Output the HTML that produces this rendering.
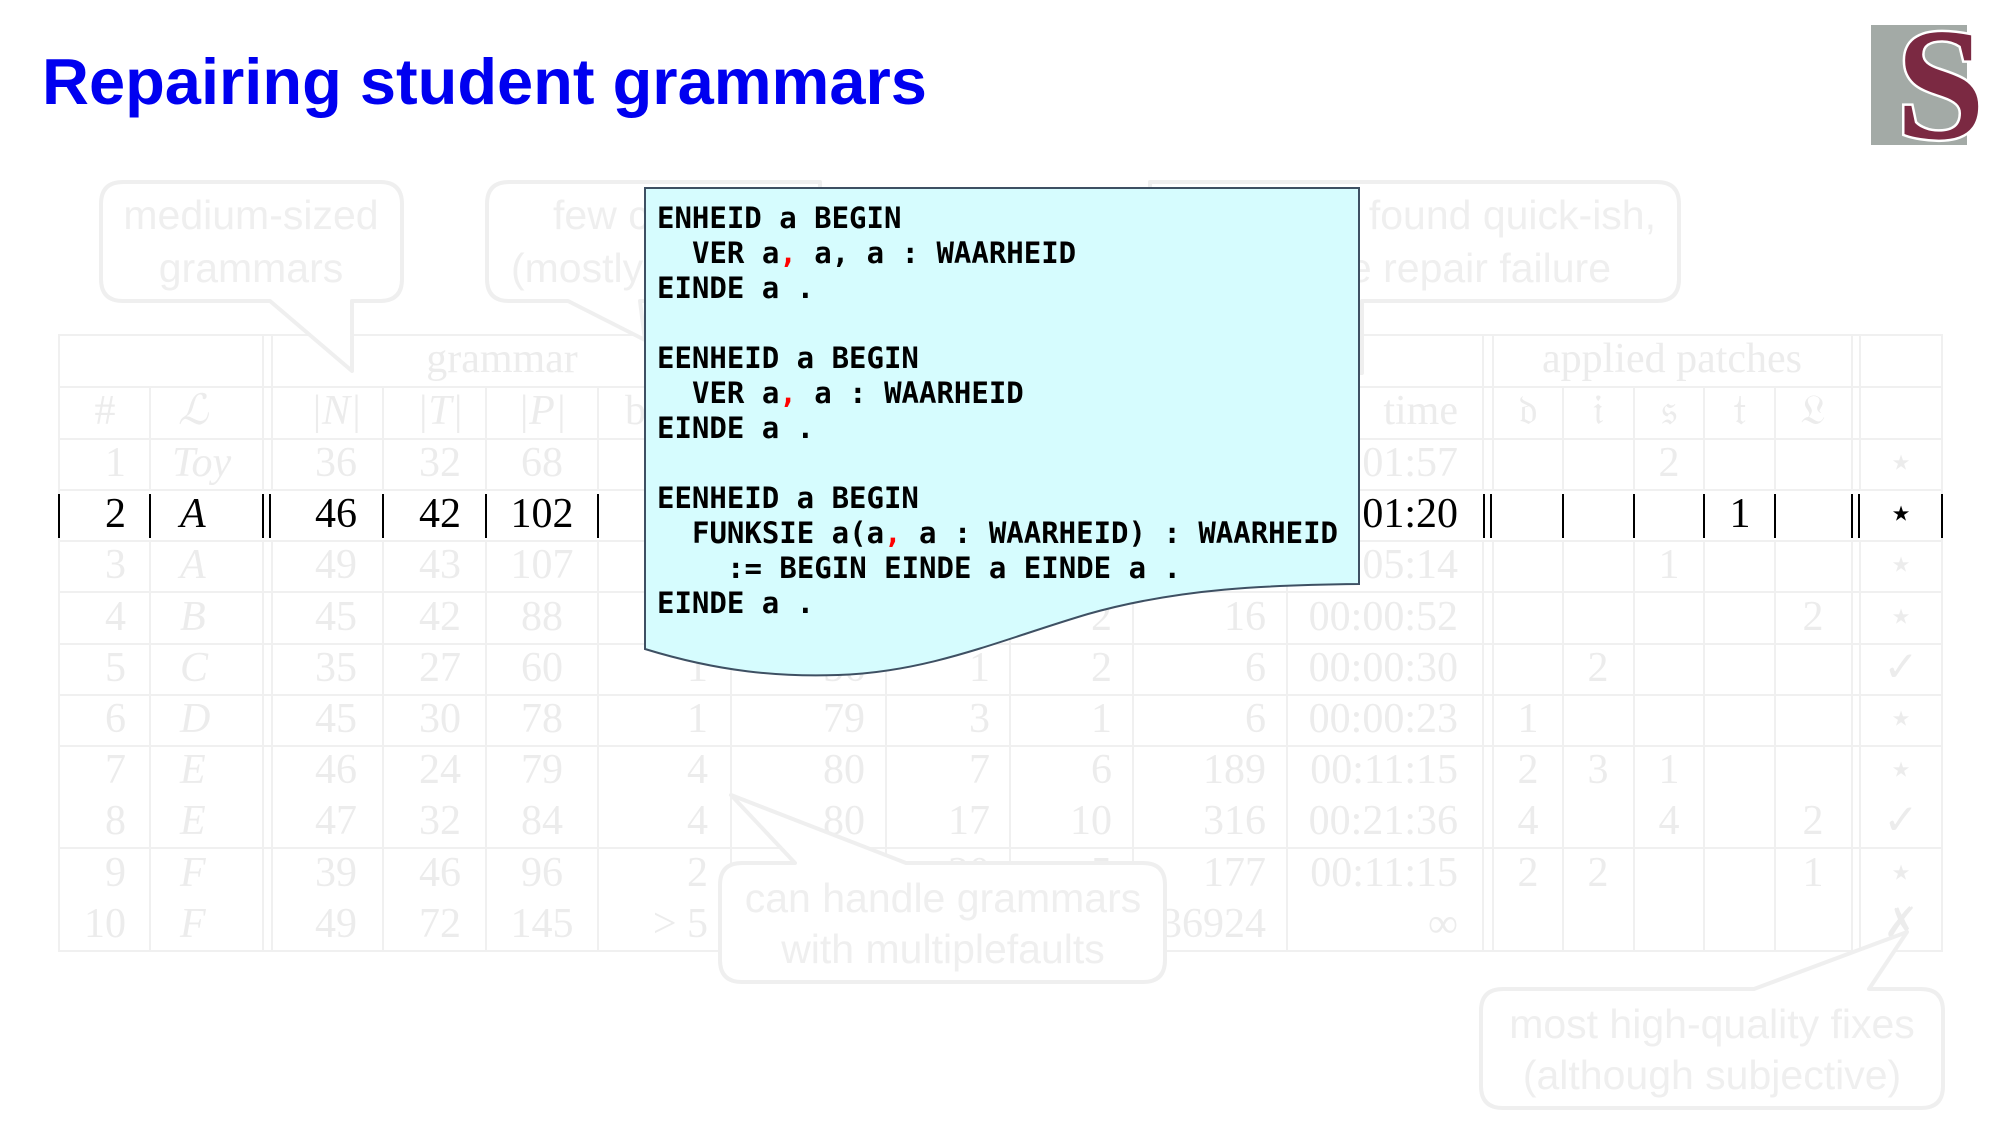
<!DOCTYPE html>
<html><head><meta charset="utf-8"><style>
html,body{margin:0;padding:0;background:#fff;}
svg{display:block;}
.f{fill:#ececec;font-family:"Liberation Serif",serif;font-size:42px;}
.b{fill:#000;font-family:"Liberation Serif",serif;font-size:42px;}
.i{font-style:italic;}
.e{text-anchor:end;}
.m{text-anchor:middle;}
.c{fill:#efefef;font-family:"Liberation Sans",sans-serif;font-size:41px;}
.code{font-family:"DejaVu Sans Mono","Liberation Mono",monospace;font-weight:bold;font-size:29px;fill:#000;}
</style></head><body>
<svg width="2001" height="1125" viewBox="0 0 2001 1125" xmlns="http://www.w3.org/2000/svg">
<rect width="2001" height="1125" fill="#fff"/>
<text x="42" y="104" font-family="Liberation Sans, sans-serif" font-weight="bold" font-size="65" fill="#0000f0">Repairing student grammars</text>
<!-- logo -->
<rect x="1871" y="25" width="96" height="120" fill="#a3aaa6"/>
<text x="1896" y="138" font-family="Liberation Serif, serif" font-weight="bold" font-size="160" fill="#7b2942" stroke="#fff" stroke-width="5" paint-order="stroke">S</text>

<!-- table lines -->
<g stroke="#f0f0f0" stroke-width="2" fill="none">
<rect x="59" y="335" width="1883" height="616"/>
<line x1="59" y1="387" x2="1942" y2="387"/>
<line x1="59" y1="439" x2="1942" y2="439"/>
<line x1="59" y1="490" x2="1942" y2="490"/>
<line x1="59" y1="541" x2="1942" y2="541"/>
<line x1="59" y1="592" x2="1942" y2="592"/>
<line x1="59" y1="644" x2="1942" y2="644"/>
<line x1="59" y1="695" x2="1942" y2="695"/>
<line x1="59" y1="746" x2="1942" y2="746"/>
<line x1="59" y1="848" x2="1942" y2="848"/>
<line x1="263" y1="335" x2="263" y2="951"/><line x1="272" y1="335" x2="272" y2="951"/>
<line x1="1483" y1="335" x2="1483" y2="951"/><line x1="1493" y1="335" x2="1493" y2="951"/>
<line x1="1852" y1="335" x2="1852" y2="951"/><line x1="1860" y1="335" x2="1860" y2="951"/>
<line x1="150" y1="387" x2="150" y2="951"/>
<line x1="383" y1="387" x2="383" y2="951"/>
<line x1="486" y1="387" x2="486" y2="951"/>
<line x1="598" y1="387" x2="598" y2="951"/>
<line x1="731" y1="387" x2="731" y2="951"/>
<line x1="886" y1="387" x2="886" y2="951"/>
<line x1="1010" y1="387" x2="1010" y2="951"/>
<line x1="1133" y1="387" x2="1133" y2="951"/>
<line x1="1287" y1="335" x2="1287" y2="951"/>
<line x1="1563" y1="387" x2="1563" y2="951"/>
<line x1="1634" y1="387" x2="1634" y2="951"/>
<line x1="1704" y1="387" x2="1704" y2="951"/>
<line x1="1775" y1="387" x2="1775" y2="951"/>
</g>
<rect x="60" y="491" width="1881" height="49" fill="#fff"/>

<!-- headers -->
<text class="f m" x="502" y="372">grammar</text>
<text class="f m" x="1672" y="372">applied patches</text>
<text class="f m" x="105" y="424">#</text>
<text class="f i" x="178" y="424">ℒ</text>
<text class="f m i" x="336" y="424">|N|</text>
<text class="f m i" x="440" y="424">|T|</text>
<text class="f m i" x="542" y="424">|P|</text>
<text class="f" x="625" y="424">b</text>
<text class="f e" x="1458" y="424">time</text>
<text class="f m" x="1528" y="424">𝔡</text>
<text class="f m" x="1598" y="424">𝔦</text>
<text class="f m" x="1669" y="424">𝔰</text>
<text class="f m" x="1740" y="424">𝔱</text>
<text class="f m" x="1813" y="424">𝔏</text>

<!-- faded rows -->
<g class="f">
<text class="e" x="126" y="476">1</text><text class="i" x="172" y="476">Toy</text><text class="m" x="336" y="476">36</text><text class="m" x="440" y="476">32</text><text class="m" x="542" y="476">68</text><text class="e" x="1458" y="476">00:01:57</text><text class="m" x="1669" y="476">2</text><text class="m" x="1901" y="476">⋆</text>

<text class="e" x="126" y="578">3</text><text class="i" x="180" y="578">A</text><text class="m" x="336" y="578">49</text><text class="m" x="440" y="578">43</text><text class="m" x="542" y="578">107</text><text class="e" x="1458" y="578">00:05:14</text><text class="m" x="1669" y="578">1</text><text class="m" x="1901" y="578">⋆</text>

<text class="e" x="126" y="630">4</text><text class="i" x="180" y="630">B</text><text class="m" x="336" y="630">45</text><text class="m" x="440" y="630">42</text><text class="m" x="542" y="630">88</text><text class="e" x="1112" y="630">2</text><text class="e" x="1266" y="630">16</text><text class="e" x="1458" y="630">00:00:52</text><text class="m" x="1813" y="630">2</text><text class="m" x="1901" y="630">⋆</text>

<text class="e" x="126" y="681">5</text><text class="i" x="180" y="681">C</text><text class="m" x="336" y="681">35</text><text class="m" x="440" y="681">27</text><text class="m" x="542" y="681">60</text><text class="e" x="708" y="681">1</text><text class="e" x="865" y="681">56</text><text class="e" x="990" y="681">1</text><text class="e" x="1112" y="681">2</text><text class="e" x="1266" y="681">6</text><text class="e" x="1458" y="681">00:00:30</text><text class="m" x="1598" y="681">2</text><text class="m" x="1901" y="681">✓</text>

<text class="e" x="126" y="732">6</text><text class="i" x="180" y="732">D</text><text class="m" x="336" y="732">45</text><text class="m" x="440" y="732">30</text><text class="m" x="542" y="732">78</text><text class="e" x="708" y="732">1</text><text class="e" x="865" y="732">79</text><text class="e" x="990" y="732">3</text><text class="e" x="1112" y="732">1</text><text class="e" x="1266" y="732">6</text><text class="e" x="1458" y="732">00:00:23</text><text class="m" x="1528" y="732">1</text><text class="m" x="1901" y="732">⋆</text>

<text class="e" x="126" y="783">7</text><text class="i" x="180" y="783">E</text><text class="m" x="336" y="783">46</text><text class="m" x="440" y="783">24</text><text class="m" x="542" y="783">79</text><text class="e" x="708" y="783">4</text><text class="e" x="865" y="783">80</text><text class="e" x="990" y="783">7</text><text class="e" x="1112" y="783">6</text><text class="e" x="1266" y="783">189</text><text class="e" x="1458" y="783">00:11:15</text><text class="m" x="1528" y="783">2</text><text class="m" x="1598" y="783">3</text><text class="m" x="1669" y="783">1</text><text class="m" x="1901" y="783">⋆</text>

<text class="e" x="126" y="834">8</text><text class="i" x="180" y="834">E</text><text class="m" x="336" y="834">47</text><text class="m" x="440" y="834">32</text><text class="m" x="542" y="834">84</text><text class="e" x="708" y="834">4</text><text class="e" x="865" y="834">80</text><text class="e" x="990" y="834">17</text><text class="e" x="1112" y="834">10</text><text class="e" x="1266" y="834">316</text><text class="e" x="1458" y="834">00:21:36</text><text class="m" x="1528" y="834">4</text><text class="m" x="1669" y="834">4</text><text class="m" x="1813" y="834">2</text><text class="m" x="1901" y="834">✓</text>

<text class="e" x="126" y="886">9</text><text class="i" x="180" y="886">F</text><text class="m" x="336" y="886">39</text><text class="m" x="440" y="886">46</text><text class="m" x="542" y="886">96</text><text class="e" x="708" y="886">2</text><text class="e" x="865" y="886">80</text><text class="e" x="990" y="886">20</text><text class="e" x="1112" y="886">5</text><text class="e" x="1266" y="886">177</text><text class="e" x="1458" y="886">00:11:15</text><text class="m" x="1528" y="886">2</text><text class="m" x="1598" y="886">2</text><text class="m" x="1813" y="886">1</text><text class="m" x="1901" y="886">⋆</text>

<text class="e" x="126" y="937">10</text><text class="i" x="180" y="937">F</text><text class="m" x="336" y="937">49</text><text class="m" x="440" y="937">72</text><text class="m" x="542" y="937">145</text><text class="e" x="708" y="937">&gt; 5</text><text class="e" x="1266" y="937">36924</text><text class="e" x="1458" y="937">∞</text><text class="m" x="1901" y="937">✗</text>
</g>

<!-- highlighted row 2 -->
<g stroke="#000" stroke-width="2">
<line x1="59" y1="494" x2="59" y2="538"/>
<line x1="150" y1="494" x2="150" y2="538"/>
<line x1="263" y1="494" x2="263" y2="538"/><line x1="270" y1="494" x2="270" y2="538"/>
<line x1="383" y1="494" x2="383" y2="538"/>
<line x1="486" y1="494" x2="486" y2="538"/>
<line x1="598" y1="494" x2="598" y2="538"/>
<line x1="1484" y1="494" x2="1484" y2="538"/><line x1="1491" y1="494" x2="1491" y2="538"/>
<line x1="1563" y1="494" x2="1563" y2="538"/>
<line x1="1634" y1="494" x2="1634" y2="538"/>
<line x1="1704" y1="494" x2="1704" y2="538"/>
<line x1="1775" y1="494" x2="1775" y2="538"/>
<line x1="1852" y1="494" x2="1852" y2="538"/><line x1="1859" y1="494" x2="1859" y2="538"/>
<line x1="1942" y1="494" x2="1942" y2="538"/>
</g>
<g class="b">
<text class="e" x="126" y="527">2</text><text class="i" x="180" y="527">A</text><text class="m" x="336" y="527">46</text><text class="m" x="440" y="527">42</text><text class="m" x="542" y="527">102</text><text class="e" x="1458" y="527">00:01:20</text><text class="m" x="1740" y="527">1</text><text class="m" x="1901" y="527">⋆</text>
</g>

<!-- callouts -->
<g fill="#fff" stroke="#efefef" stroke-width="4" stroke-linejoin="round">
<path d="M123,182 H380 Q402,182 402,204 V279 Q402,301 380,301 H352 V371 L270,301 H123 Q101,301 101,279 V204 Q101,182 123,182 Z"/>
<path d="M509,182 H820 V301 H640 L645,340 L568,301 H509 Q487,301 487,279 V204 Q487,182 509,182 Z"/>
<path d="M1150,182 H1657 Q1679,182 1679,204 V279 Q1679,301 1657,301 H1362 V373 H1355 V301 H1150 Z"/>
<path d="M742,863 H795 L731,795 L906,863 H1143 Q1165,863 1165,885 V960 Q1165,982 1143,982 H742 Q720,982 720,960 V885 Q720,863 742,863 Z"/>
<path d="M1503,989 H1754 L1907,932 L1869,989 H1921 Q1943,989 1943,1011 V1086 Q1943,1108 1921,1108 H1503 Q1481,1108 1481,1086 V1011 Q1481,989 1503,989 Z"/>
</g>
<g class="c">
<text class="m" x="251" y="229">medium-sized</text>
<text class="m" x="251" y="282">grammars</text>
<text x="553" y="229">few changes</text>
<text x="511" y="282">(mostly single)</text>
<text class="e" x="1656" y="229">fixes found quick-ish,</text>
<text class="e" x="1611" y="282">no false repair failure</text>
<text class="m" x="943" y="912">can handle grammars</text>
<text class="m" x="943" y="963">with multiplefaults</text>
<text class="m" x="1712" y="1038">most high-quality fixes</text>
<text class="m" x="1712" y="1089">(although subjective)</text>
</g>

<!-- code box -->
<path d="M645,188 H1359 V584 C1270,585 1180,588 1088,614 C1000,640 930,672 838,675 C780,677 720,672 645,649 Z" fill="#d6fcfe" stroke="#3e5063" stroke-width="2"/>
<g class="code">
<text x="657" y="228">ENHEID a BEGIN</text>
<text x="692" y="263">VER a<tspan fill="#ff0000">,</tspan> a, a : WAARHEID</text>
<text x="657" y="298">EINDE a .</text>
<text x="657" y="368">EENHEID a BEGIN</text>
<text x="692" y="403">VER a<tspan fill="#ff0000">,</tspan> a : WAARHEID</text>
<text x="657" y="438">EINDE a .</text>
<text x="657" y="508">EENHEID a BEGIN</text>
<text x="692" y="543">FUNKSIE a(a<tspan fill="#ff0000">,</tspan> a : WAARHEID) : WAARHEID</text>
<text x="727" y="578">:= BEGIN EINDE a EINDE a .</text>
<text x="657" y="613">EINDE a .</text>
</g>
</svg>
</body></html>
